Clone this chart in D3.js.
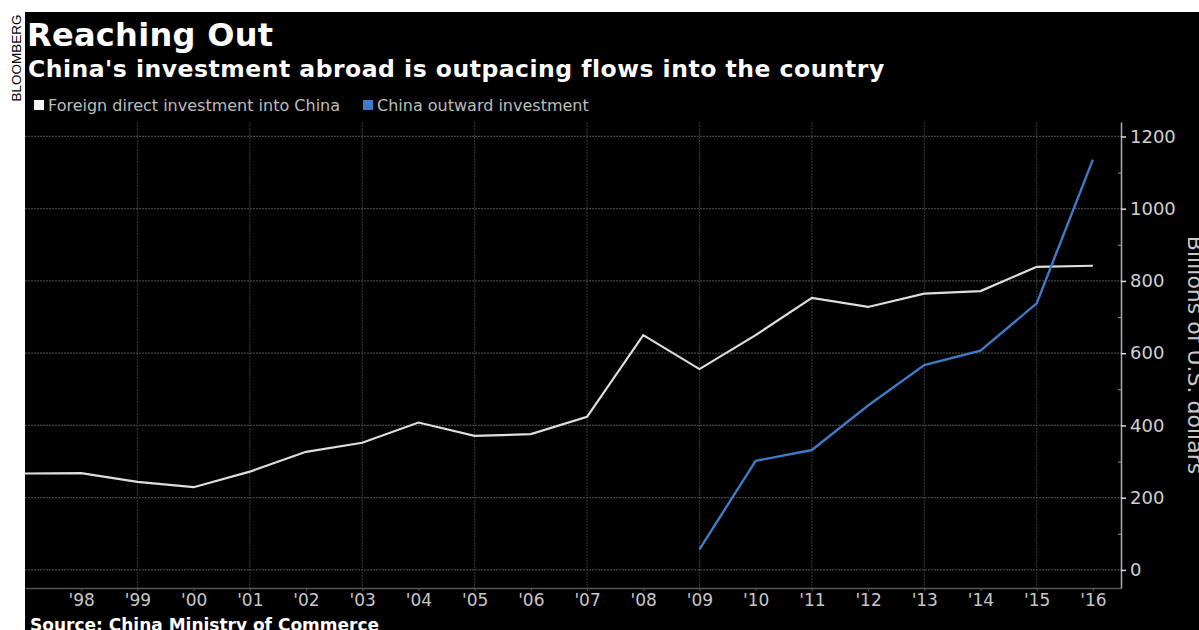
<!DOCTYPE html>
<html>
<head>
<meta charset="utf-8">
<script src="https://d3js.org/d3.v7.min.js"></script>
<style>
  html, body { margin: 0; padding: 0; background: #fff; }
  svg { display: block; }
</style>
</head>
<body>
<div id="chart"></div>
<script>
const width = 1199;
const height = 630;

const years = [1997, 1998, 1999, 2000, 2001, 2002, 2003, 2004, 2005, 2006, 2007, 2008, 2009, 2010, 2011, 2012, 2013, 2014, 2015, 2016];
const fdiInto = [267, 268, 244, 229, 272, 327, 352, 408, 371, 376, 424, 650, 556, 650, 753, 728, 765, 772, 839, 842];
const outwardYears = [2009, 2010, 2011, 2012, 2013, 2014, 2015, 2016];
const outward = [57, 302, 332, 455, 567, 607, 738, 1136];
const yTicks = [0, 200, 400, 600, 800, 1000, 1200];
const xTickYears = [1998, 1999, 2000, 2001, 2002, 2003, 2004, 2005, 2006, 2007, 2008, 2009, 2010, 2011, 2012, 2013, 2014, 2015, 2016];
const gridYears = [1999, 2001, 2003, 2005, 2007, 2009, 2011, 2013, 2015];

const fdiSeries = years.map((y, i) => ({ year: y, value: fdiInto[i] }));
const outSeries = outwardYears.map((y, i) => ({ year: y, value: outward[i] }));

const plot = { left: 25, right: 1121, top: 122, bottom: 588 };

const svg = d3.select('#chart')
  .append('svg')
  .attr('width', width)
  .attr('height', height);

// black panel
svg.append('rect')
  .attr('x', 25).attr('y', 12)
  .attr('width', width - 25).attr('height', height - 12)
  .attr('fill', '#000');

// side tag
svg.append('text')
  .text('BLOOMBERG')
  .attr('transform', 'translate(21,58) rotate(-90)')
  .attr('text-anchor', 'middle')
  .attr('font-family', 'Liberation Sans, Arial, sans-serif')
  .attr('font-size', '13.5px')
  .attr('fill', '#000');

svg.append('text')
  .text('Reaching Out')
  .attr('x', 27).attr('y', 46)
  .attr('font-family', 'DejaVu Sans, sans-serif')
  .attr('font-weight', 'bold')
  .attr('font-size', '32px')
  .attr('letter-spacing', '0.3px')
  .attr('fill', '#fff');

svg.append('text')
  .text("China's investment abroad is outpacing flows into the country")
  .attr('x', 28).attr('y', 77)
  .attr('font-family', 'DejaVu Sans, sans-serif')
  .attr('font-weight', 'bold')
  .attr('font-size', '23.5px')
  .attr('letter-spacing', '0.5px')
  .attr('fill', '#fff');

// legend
const legendItems = [
  { label: 'Foreign direct investment into China', color: '#f2f2f2', x: 34 },
  { label: 'China outward investment', color: '#3f7ac6', x: 363 }
];
const legend = svg.append('g')
  .selectAll('g')
  .data(legendItems)
  .enter()
  .append('g')
  .attr('transform', d => `translate(${d.x},100)`);
legend.append('rect')
  .attr('width', 10).attr('height', 10)
  .attr('fill', d => d.color);
legend.append('text')
  .text(d => d.label)
  .attr('x', 14).attr('y', 10.5)
  .attr('font-family', 'DejaVu Sans, sans-serif')
  .attr('font-size', '16px')
  .attr('fill', '#bdbdbd');

const x = d3.scaleLinear().domain([1997, 2016.5]).range([plot.left, plot.right]);
const y = d3.scaleLinear().domain([-50, 1240]).range([plot.bottom, plot.top]);

// grid
svg.append('g')
  .selectAll('line')
  .data(yTicks)
  .enter()
  .append('line')
  .attr('x1', plot.left).attr('x2', plot.right)
  .attr('y1', d => y(d)).attr('y2', d => y(d))
  .attr('stroke', '#444')
  .attr('stroke-width', 1.2)
  .attr('stroke-dasharray', '2,1');

svg.append('g')
  .selectAll('line')
  .data(gridYears)
  .enter()
  .append('line')
  .attr('x1', d => x(d)).attr('x2', d => x(d))
  .attr('y1', plot.top).attr('y2', plot.bottom)
  .attr('stroke', '#3a3a3a')
  .attr('stroke-width', 1)
  .attr('stroke-dasharray', '2,1');

// x axis
const xAxis = svg.append('g')
  .attr('transform', `translate(0,${plot.bottom})`)
  .call(d3.axisBottom(x)
    .tickValues(xTickYears)
    .tickSize(3)
    .tickSizeOuter(0)
    .tickPadding(3)
    .tickFormat(d => "'" + String(d).slice(2)));
xAxis.select('.domain').attr('stroke', '#555').attr('stroke-width', 1.5);
xAxis.selectAll('.tick line').attr('stroke', '#555');
xAxis.selectAll('.tick text')
  .attr('font-family', 'DejaVu Sans, sans-serif')
  .attr('font-size', '17px')
  .attr('fill', '#c8c8c8');

// y axis, minor then major ticks
const yMinor = svg.append('g')
  .attr('transform', `translate(${plot.right},0)`)
  .call(d3.axisLeft(y)
    .tickValues(d3.range(100, 1200, 200))
    .tickSize(3)
    .tickSizeOuter(0)
    .tickFormat(''));
yMinor.select('.domain').remove();
yMinor.selectAll('.tick line').attr('stroke', '#999');

const yAxis = svg.append('g')
  .attr('transform', `translate(${plot.right},0)`)
  .call(d3.axisRight(y)
    .tickValues(yTicks)
    .tickSize(5)
    .tickSizeOuter(0)
    .tickPadding(4)
    .tickFormat(d3.format('d')));
yAxis.select('.domain').attr('stroke', '#aaa').attr('stroke-width', 1.5);
yAxis.selectAll('.tick line').attr('stroke', '#ddd').attr('stroke-width', 1.5);
yAxis.selectAll('.tick text')
  .attr('font-family', 'DejaVu Sans, sans-serif')
  .attr('font-size', '18px')
  .attr('fill', '#d0d0d0');

svg.append('text')
  .text('Billions of U.S. dollars')
  .attr('transform', `translate(1188,355) rotate(90)`)
  .attr('text-anchor', 'middle')
  .attr('font-family', 'DejaVu Sans, sans-serif')
  .attr('font-size', '22px')
  .attr('fill', '#c8c8c8');

// lines
const line = d3.line()
  .x(d => x(d.year))
  .y(d => y(d.value));

svg.append('path')
  .datum(fdiSeries)
  .attr('d', line)
  .attr('fill', 'none')
  .attr('stroke', '#dedede')
  .attr('stroke-width', 2.2);

svg.append('path')
  .datum(outSeries)
  .attr('d', line)
  .attr('fill', 'none')
  .attr('stroke', '#3f7ac6')
  .attr('stroke-width', 2.4);

svg.append('text')
  .text('Source: China Ministry of Commerce')
  .attr('x', 30).attr('y', 631)
  .attr('font-family', 'DejaVu Sans, sans-serif')
  .attr('font-weight', 'bold')
  .attr('font-size', '17px')
  .attr('fill', '#fff');
</script>
</body>
</html>
